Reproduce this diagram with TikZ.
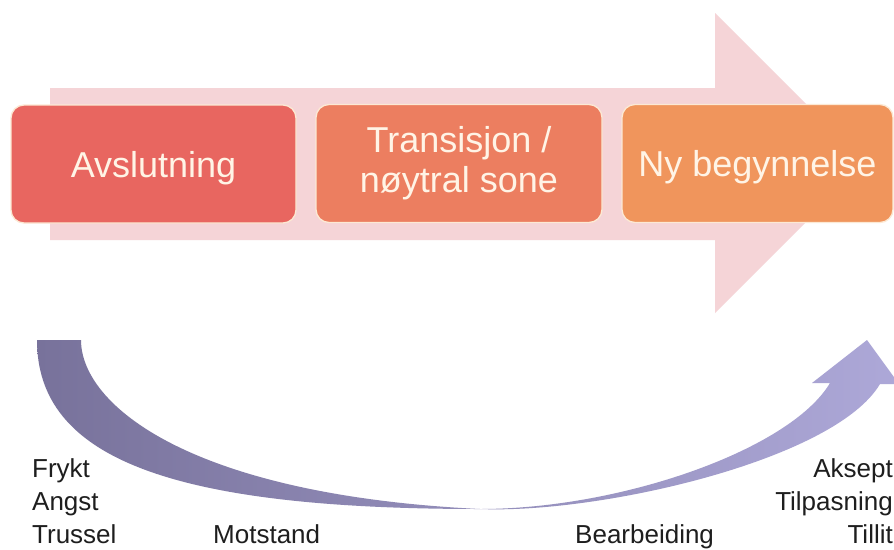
\documentclass[tikz,border=0pt]{standalone}
\usepackage{fontspec}
\setmainfont{Liberation Sans}
\definecolor{arrowpink}{HTML}{F5D4D7}
\definecolor{boxA}{HTML}{E86660}
\definecolor{boxB}{HTML}{EC7E60}
\definecolor{boxC}{HTML}{F0955C}
\definecolor{boxtext}{HTML}{FFF4E6}
\definecolor{boxedge}{HTML}{FCE9D4}
\definecolor{curveL}{HTML}{78729B}
\definecolor{curveR}{HTML}{ADA8D8}
\definecolor{lbltext}{HTML}{1E1E1E}
\tikzset{
  phasebox/.style={draw=boxedge, line width=1.3pt, rounded corners=13pt,
    text=boxtext, font=\fontsize{36}{40}\selectfont, align=center,
    minimum height=118pt, inner sep=0pt},
  lbl/.style={text=lbltext, font=\fontsize{26}{33}\selectfont, inner sep=0pt}
}
\begin{document}
\begin{tikzpicture}[x=1pt,y=-1pt]
\useasboundingbox (0,0) rectangle (894,549);
\fill[white] (0,0) rectangle (894,549);
% big background arrow
\fill[arrowpink] (50,88) -- (715,88) -- (715,13) -- (865,163) -- (715,313)
  -- (715,240) -- (50,240) -- cycle;
% phase boxes
\node[phasebox, fill=boxA, minimum width=285pt, text depth=0pt] (avs) at (153.5,164) {Avslutning};
\node[phasebox, fill=boxB, minimum width=286pt] (tra) at (459,163.5) {Transisjon /\\nøytral sone};
\node[phasebox, fill=boxC, minimum width=271pt, text depth=0pt] (ny) at (757.5,163.5) {Ny begynnelse};
% curved arrow
\coordinate (cs1) at (37,340);
\coordinate (cs2) at (81,340);
\coordinate (cb) at (480,509);
\coordinate (hi) at (830,383);
\coordinate (ho) at (880,384);
\coordinate (hl) at (812,383);
\coordinate (ht) at (867,340);
\coordinate (hr) at (899,384);
\shade[left color=curveL, right color=curveR]
  (cs1) .. controls (37,458) and (170,509) .. (cb)
        .. controls (620,509) and (790,450) .. (hi)
  -- (hl) -- (ht) -- (hr) -- (ho)
        .. controls (835,460) and (600,514) .. (cb)
        .. controls (190,495) and (81,405) .. (cs2)
  -- cycle;
% labels
\node[lbl, align=left, anchor=north west] (neg) at (32,458.4) {Frykt\\Angst\\Trussel};
\node[lbl, anchor=base west] (mot) at (213,543) {Motstand};
\node[lbl, anchor=base west] (bea) at (575,543) {Bearbeiding};
\node[lbl, align=right, anchor=north east] (pos) at (893,458.4) {Aksept\\Tilpasning\\Tillit};
\end{tikzpicture}
\end{document}
